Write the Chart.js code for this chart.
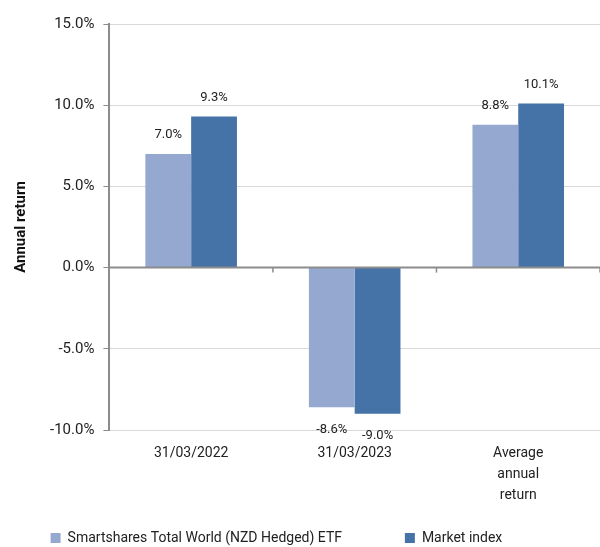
<!DOCTYPE html>
<html>
<head>
<meta charset="utf-8">
<script src="https://cdn.jsdelivr.net/npm/chart.js@4"></script>
<style>
  html, body { margin: 0; padding: 0; background: #fff; }
  #wrap { width: 600px; height: 547px; }
</style>
</head>
<body>
<div id="wrap"><canvas id="returnChart"></canvas></div>
<script>
const categories = ['31/03/2022', '31/03/2023', ['Average', 'annual', 'return']];
const etfReturns = [7.0, -8.6, 8.8];
const indexReturns = [9.3, -9.0, 10.1];
const seriesNames = ['Smartshares Total World (NZD Hedged) ETF', 'Market index'];

// zero line + tick marks between categories
const zeroLine = {
    id: 'zeroLine',
    afterDatasetsDraw(chart) {
        const { ctx, chartArea, scales } = chart;
        const y0 = scales.y.getPixelForValue(0);
        const half = (scales.x.getPixelForValue(1) - scales.x.getPixelForValue(0)) / 2;
        ctx.save();
        ctx.strokeStyle = '#8c8c8c';
        ctx.lineWidth = 2;
        ctx.beginPath();
        ctx.moveTo(chartArea.left, y0);
        ctx.lineTo(chartArea.right, y0);
        ctx.stroke();
        ctx.lineWidth = 1.5;
        for (let i = 0; i < categories.length; i++) {
            const x = scales.x.getPixelForValue(i) + half;
            ctx.beginPath();
            ctx.moveTo(x, y0);
            ctx.lineTo(x, y0 + 5);
            ctx.stroke();
        }
        ctx.restore();
    }
};

// value labels above / below bars
const valueLabels = {
    id: 'valueLabels',
    afterDatasetsDraw(chart) {
        const { ctx } = chart;
        ctx.save();
        ctx.font = '13px Roboto';
        ctx.fillStyle = '#222';
        ctx.textAlign = 'center';
        ctx.textBaseline = 'middle';
        chart.data.datasets.forEach((ds, i) => {
            chart.getDatasetMeta(i).data.forEach((bar, j) => {
                const v = ds.data[j];
                const y = v >= 0 ? bar.y - 19 : bar.y + 22;
                ctx.fillText(v.toFixed(1) + '%', bar.x, y);
            });
        });
        ctx.restore();
    }
};

const ctx = document.getElementById('returnChart').getContext('2d');
new Chart(ctx, {
    type: 'bar',
    data: {
        labels: categories,
        datasets: [{
            label: seriesNames[0],
            data: etfReturns,
            backgroundColor: '#95a9d0',
            barPercentage: 1,
            categoryPercentage: 0.56
        }, {
            label: seriesNames[1],
            data: indexReturns,
            backgroundColor: '#4572a7',
            barPercentage: 1,
            categoryPercentage: 0.56
        }]
    },
    options: {
        responsive: true,
        maintainAspectRatio: false,
        animation: false,
        layout: { padding: { top: 24, right: 0, left: 10, bottom: -8 } },
        plugins: {
            tooltip: { enabled: false },
            legend: {
                position: 'bottom',
                labels: {
                    font: { family: 'Roboto', size: 14 },
                    color: '#222',
                    boxWidth: 10,
                    boxHeight: 10,
                    padding: 20,
                    generateLabels(chart) {
                        // wider gap after the first entry and legend sits left of centre, like the original
                        return Chart.defaults.plugins.legend.labels.generateLabels(chart).map((item, i) => {
                            item.text += i === 0 ? '\u2003\u2003\u2003' : '\u2003\u2003\u2003\u2003';
                            return item;
                        });
                    }
                }
            }
        },
        scales: {
            x: {
                grid: { display: false },
                border: { display: false },
                ticks: {
                    font: { family: 'Roboto', size: 14, lineHeight: 1.5 },
                    color: '#222',
                    padding: 5
                }
            },
            y: {
                min: -10,
                max: 15,
                ticks: {
                    stepSize: 5,
                    font: { family: 'Roboto', size: 15 },
                    color: '#222',
                    padding: 9,
                    callback: v => v.toFixed(1) + '%'
                },
                grid: { color: '#d9d9d9', tickColor: '#8c8c8c', tickLength: 6 },
                border: { color: '#8c8c8c', width: 2 },
                title: {
                    display: true,
                    text: 'Annual return',
                    font: { family: 'Roboto', size: 15, weight: 'bold' },
                    color: '#111',
                    padding: { top: 2, bottom: 11 }
                }
            }
        }
    },
    plugins: [zeroLine, valueLabels]
});
</script>
</body>
</html>
